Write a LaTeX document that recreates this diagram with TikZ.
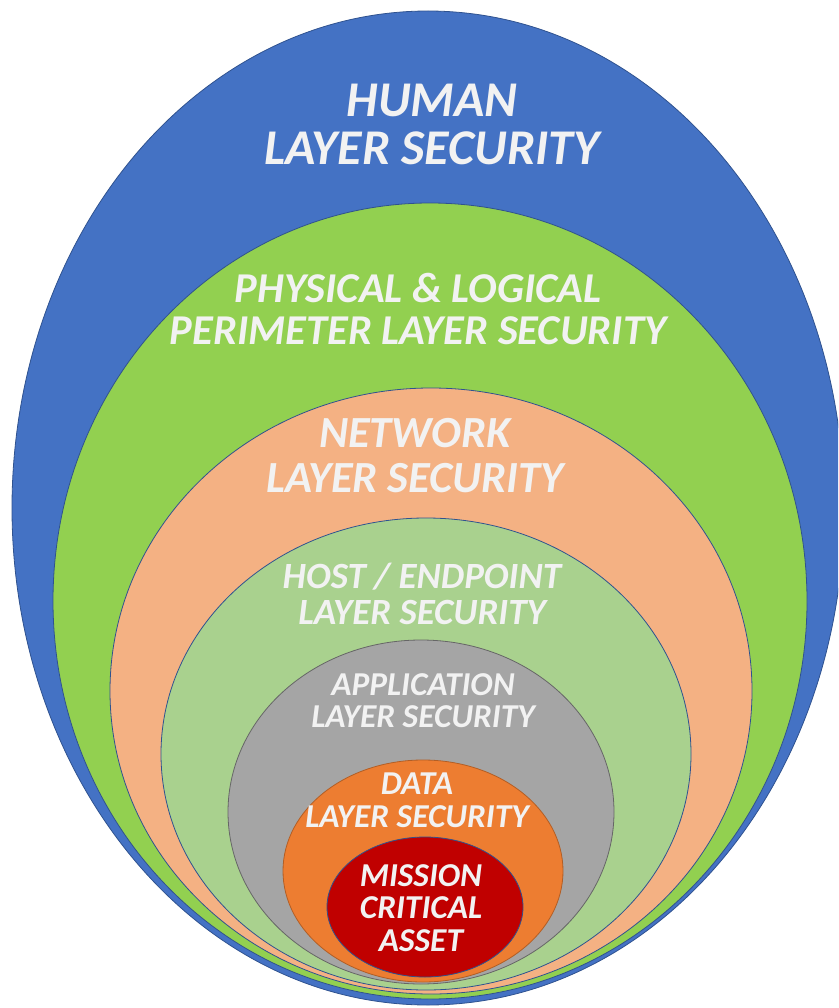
\documentclass[tikz,border=0pt]{standalone}
\usepackage{fontspec}
\setmainfont{Carlito}
\usepackage{tikz}
\usetikzlibrary{shapes.geometric}

\definecolor{humanblue}{HTML}{4472C4}
\definecolor{perigreen}{HTML}{92D050}
\definecolor{netsalmon}{HTML}{F4B183}
\definecolor{hostgreen}{HTML}{A9D18E}
\definecolor{appgray}{HTML}{A5A5A5}
\definecolor{dataorange}{HTML}{ED7D31}
\definecolor{assetred}{HTML}{C00000}
\definecolor{rimblue}{HTML}{2F528F}
\definecolor{labelwhite}{HTML}{F2F2F2}

\begin{document}
\begin{tikzpicture}[x=1pt,y=-1pt,
    layer/.style={ellipse,draw=rimblue,line width=0.8pt,inner sep=0pt},
    lbl/.style={text=labelwhite,align=center,font=\bfseries\itshape}]
  \useasboundingbox (0,0) rectangle (838,1008);
  \clip (0,0) rectangle (838,1008);
  % nested layers, outer to inner
  \node[layer,fill=humanblue,minimum width=832pt,minimum height=994pt] (human) at (428,508) {};
  \node[layer,fill=perigreen,minimum width=754pt,minimum height=796pt] (peri) at (430,601) {};
  \node[layer,fill=netsalmon,minimum width=642pt,minimum height=606pt] (net) at (431,691) {};
  \node[layer,fill=hostgreen,minimum width=530pt,minimum height=472pt] (host) at (426,754) {};
  \node[layer,fill=appgray,draw=gray!80!black,minimum width=386pt,minimum height=344pt] (app) at (421,812) {};
  \node[layer,fill=dataorange,draw=dataorange!75!black,minimum width=280pt,minimum height=222pt] (data) at (423,871) {};
  \node[layer,fill=assetred,minimum width=196pt,minimum height=140pt] (asset) at (425,907) {};
  % labels
  \node[lbl,font=\fontsize{50}{48}\selectfont\bfseries\itshape] (humanlbl) at (432,124) {HUMAN\\LAYER SECURITY};
  \node[lbl,font=\fontsize{42.5}{42}\selectfont\bfseries\itshape] (perilbl) at (418,309) {PHYSICAL \& LOGICAL\\PERIMETER LAYER SECURITY};
  \node[lbl,font=\fontsize{44.5}{45}\selectfont\bfseries\itshape] (netlbl) at (415,456) {NETWORK\\LAYER SECURITY};
  \node[lbl,font=\fontsize{37}{36}\selectfont\bfseries\itshape] (hostlbl) at (422,594) {HOST / ENDPOINT\\LAYER SECURITY};
  \node[lbl,font=\fontsize{33.4}{32}\selectfont\bfseries\itshape] (applbl) at (423,701) {APPLICATION\\LAYER SECURITY};
  \node[lbl,font=\fontsize{33.4}{33}\selectfont\bfseries\itshape] (datalbl) at (417,800) {DATA\\LAYER SECURITY};
  \node[lbl,font=\fontsize{33.4}{32.5}\selectfont\bfseries\itshape] (assetlbl) at (421,908) {MISSION\\CRITICAL\\ASSET};
\end{tikzpicture}
\end{document}
